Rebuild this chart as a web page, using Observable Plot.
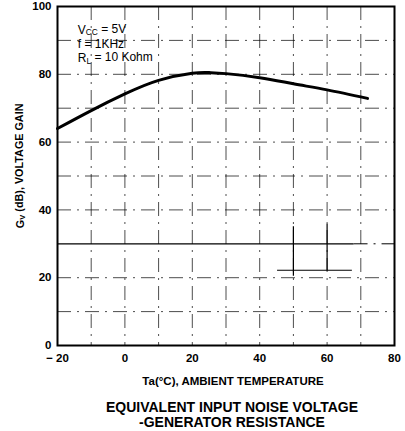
<!DOCTYPE html>
<html>
<head>
<meta charset="utf-8">
<script src="https://cdn.jsdelivr.net/npm/d3@7"></script>
<script src="https://cdn.jsdelivr.net/npm/@observablehq/plot@0.6"></script>
<style>
  html, body { margin: 0; padding: 0; background: #fff; }
  #chart { width: 405px; height: 393px; }
  #chart svg { display: block; }
  .title { font-family: "Liberation Sans", Arial, sans-serif; font-weight: bold; font-size: 14px; color: #000;
           text-align: center; line-height: 15px; width: 405px; padding-left: 59px; box-sizing: border-box; margin-top: 7px; }
</style>
</head>
<body>
<div id="chart"></div>
<div class="title">EQUIVALENT INPUT NOISE VOLTAGE<br>-GENERATOR RESISTANCE</div>
<script>
// Data
const temperature = [-20, -10, 0, 10, 20, 25, 30, 40, 50, 60, 72];
const gain = [64, 69.3, 74.2, 78.2, 80.3, 80.5, 80.2, 79, 77.2, 75.4, 72.9];
const xTicks = [-20, 0, 20, 40, 60, 80];
const yTicks = [0, 20, 40, 60, 80, 100];
const xGrid = [-10, 0, 10, 20, 30, 40, 50, 60, 70];
const yGrid = [10, 20, 40, 50, 60, 70, 80, 90];
const conditions = ["VCC = 5V", "f = 1KHz", "RL = 10 Kohm"];
const conditionY = [93.1, 88.9, 84.7];
const xLabel = "Ta(°C), AMBIENT TEMPERATURE";
const yLabel = "GV (dB), VOLTAGE GAIN";
// solid reference line at 30 and scan marks
const solidLine = [{y: 30, x1: -20, x2: 68}];
const dashedTail = [{y: 30, x1: 68, x2: 80}];
const crossV = [{x: 50, y1: 20.4, y2: 35}, {x: 60, y1: 22, y2: 35.8}];
const crossH = [{y: 22.2, x1: 45.3, x2: 67.5}];

const data = temperature.map((t, i) => ({t, g: gain[i]}));
const font = '"Liberation Sans", Arial, sans-serif';
const dash = "14,6,2,6";

const chart = Plot.plot({
  width: 405,
  height: 393,
  marginLeft: 57,
  marginRight: 11,
  marginTop: 6,
  marginBottom: 48,
  style: {fontFamily: font, fontWeight: "bold", fontSize: "11.5px", color: "#000", background: "#fff"},
  x: {domain: [-20, 80], ticks: xTicks, tickSize: 0, tickPadding: 8, tickFormat: d => d < 0 ? "\u2212 " + Math.abs(d) : d, label: null},
  y: {domain: [0, 100], ticks: yTicks, tickSize: 0, tickPadding: 6, label: null},
  marks: [
    Plot.ruleX(xGrid, {stroke: "#000", strokeWidth: 1, strokeOpacity: 0.7, strokeDasharray: dash}),
    Plot.ruleY(yGrid, {stroke: "#000", strokeWidth: 1, strokeOpacity: 0.7, strokeDasharray: dash}),
    Plot.ruleY(solidLine, {y: "y", x1: "x1", x2: "x2", stroke: "#000", strokeWidth: 1.3}),
    Plot.ruleY(dashedTail, {y: "y", x1: "x1", x2: "x2", stroke: "#000", strokeWidth: 1, strokeDasharray: dash}),
    Plot.ruleX(crossV, {x: "x", y1: "y1", y2: "y2", stroke: "#000", strokeWidth: 1.2}),
    Plot.ruleY(crossH, {y: "y", x1: "x1", x2: "x2", stroke: "#000", strokeWidth: 1.2}),
    Plot.frame({stroke: "#000", strokeWidth: 2}),
    Plot.line(data, {x: "t", y: "g", curve: "natural", stroke: "#000", strokeWidth: 3}),
    Plot.text(conditions, {x: -14, y: (d, i) => conditionY[i], text: d => d, textAnchor: "start",
      fontSize: 12, fontWeight: "normal", fill: "#000", className: "cond"}),
    Plot.text([xLabel], {frameAnchor: "bottom", dy: 39, dx: 7, text: d => d, fontSize: 11.5, fontWeight: "bold", fill: "#000"}),
    Plot.text([yLabel], {x: -20, y: 53, dx: -37, text: d => d, rotate: -90, fontSize: 10.8, fontWeight: "bold", fill: "#000", className: "ylab"})
  ]
});
document.getElementById("chart").appendChild(chart);

// add subscripts
function subscript(sel, main, sub, rest) {
  const t = d3.select(sel);
  t.text(null);
  t.append("tspan").text(main);
  t.append("tspan").attr("font-size", "0.7em").attr("dy", "0.2em").text(sub);
  t.append("tspan").attr("dy", "-0.2em").text(rest);
}
const condTexts = chart.querySelectorAll("g.cond text");
subscript(condTexts[0], "V", "CC", " = 5V");
subscript(condTexts[2], "R", "L", " = 10 Kohm");
const ylab = chart.querySelector("g.ylab text");
subscript(ylab, "G", "V", " (dB), VOLTAGE GAIN");
</script>
</body>
</html>
